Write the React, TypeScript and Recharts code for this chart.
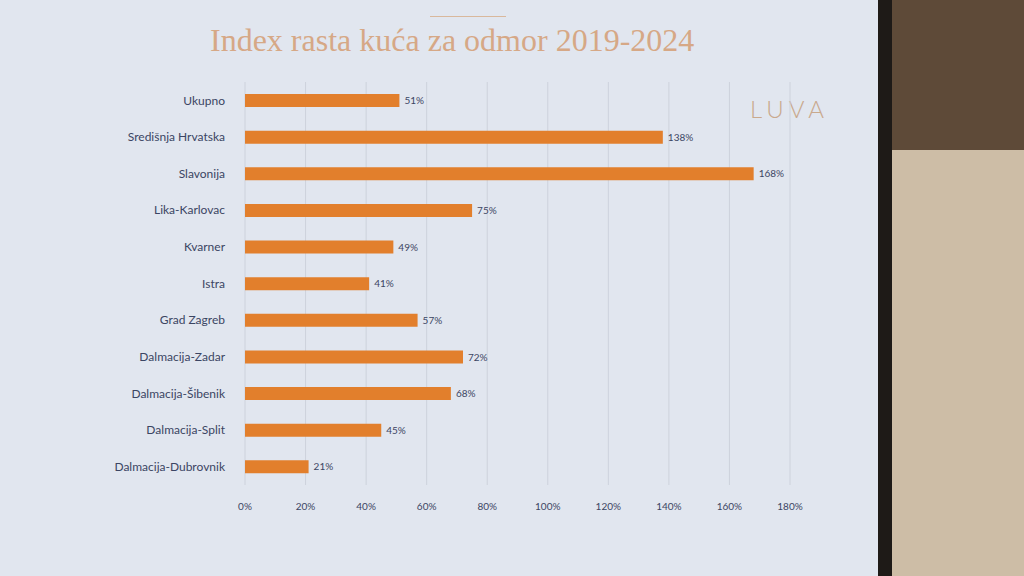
import React from 'react';
import { BarChart, Bar, XAxis, YAxis, CartesianGrid, LabelList } from 'recharts';

const regions = [
  'Ukupno',
  'Središnja Hrvatska',
  'Slavonija',
  'Lika-Karlovac',
  'Kvarner',
  'Istra',
  'Grad Zagreb',
  'Dalmacija-Zadar',
  'Dalmacija-Šibenik',
  'Dalmacija-Split',
  'Dalmacija-Dubrovnik',
];

const growth = [51, 138, 168, 75, 49, 41, 57, 72, 68, 45, 21];

const xTicks = [0, 20, 40, 60, 80, 100, 120, 140, 160, 180];

const data = regions.map((name, i) => ({ name, value: growth[i] }));

const textColor = '#3b4563';
const barColor = '#e27f2c';

export default function App() {
  return (
    <div
      style={{
        position: 'fixed',
        left: 0,
        top: 0,
        width: 1024,
        height: 576,
        background: '#e1e6ef',
        overflow: 'hidden',
      }}
    >
      {/* wall / screen edge on the right */}
      <div style={{ position: 'absolute', left: 878, top: 0, width: 146, height: 576, background: '#1e1a17' }} />
      <div style={{ position: 'absolute', left: 892, top: 0, width: 132, height: 150, background: '#5e4a38' }} />
      <div style={{ position: 'absolute', left: 892, top: 150, width: 132, height: 426, background: '#cdbda6' }} />

      <div style={{ position: 'absolute', left: 430, top: 16, width: 76, height: 1, background: '#d9b89c' }} />
      <div
        style={{
          position: 'absolute',
          left: 210,
          top: 22,
          fontFamily: '"Liberation Serif", "DejaVu Serif", serif',
          fontSize: 32,
          color: '#d6a886',
          whiteSpace: 'nowrap',
        }}
      >
        Index rasta kuća za odmor 2019-2024
      </div>
      <div
        style={{
          position: 'absolute',
          left: 750,
          top: 94,
          fontFamily: 'Lato, "Open Sans", sans-serif',
          fontWeight: 300,
          fontSize: 24,
          letterSpacing: 5,
          color: '#c9a98d',
        }}
      >
        LUVA
      </div>

      <div style={{ position: 'absolute', left: 0, top: 0 }}>
        <BarChart
          layout="vertical"
          width={830}
          height={525}
          data={data}
          margin={{ top: 82, right: 40, bottom: 10, left: 0 }}
          barSize={13}
        >
          <CartesianGrid horizontal={false} stroke="#cdd2dc" />
          <XAxis
            type="number"
            domain={[0, 180]}
            ticks={xTicks}
            tickFormatter={(v: number) => `${v}%`}
            axisLine={false}
            tickLine={false}
            height={30}
            tick={{ fontSize: 10, fill: textColor, fontFamily: 'Lato, sans-serif' }}
            tickMargin={12}
          />
          <YAxis
            type="category"
            dataKey="name"
            width={245}
            axisLine={false}
            tickLine={false}
            tickMargin={14}
            tick={{ fontSize: 12, fill: textColor, fontFamily: 'Lato, sans-serif' }}
          />
          <Bar dataKey="value" fill={barColor} isAnimationActive={false}>
            <LabelList
              dataKey="value"
              position="right"
              formatter={(v: number) => `${v}%`}
              style={{ fontSize: 10, fill: textColor, fontFamily: 'Lato, sans-serif' }}
            />
          </Bar>
        </BarChart>
      </div>
    </div>
  );
}
